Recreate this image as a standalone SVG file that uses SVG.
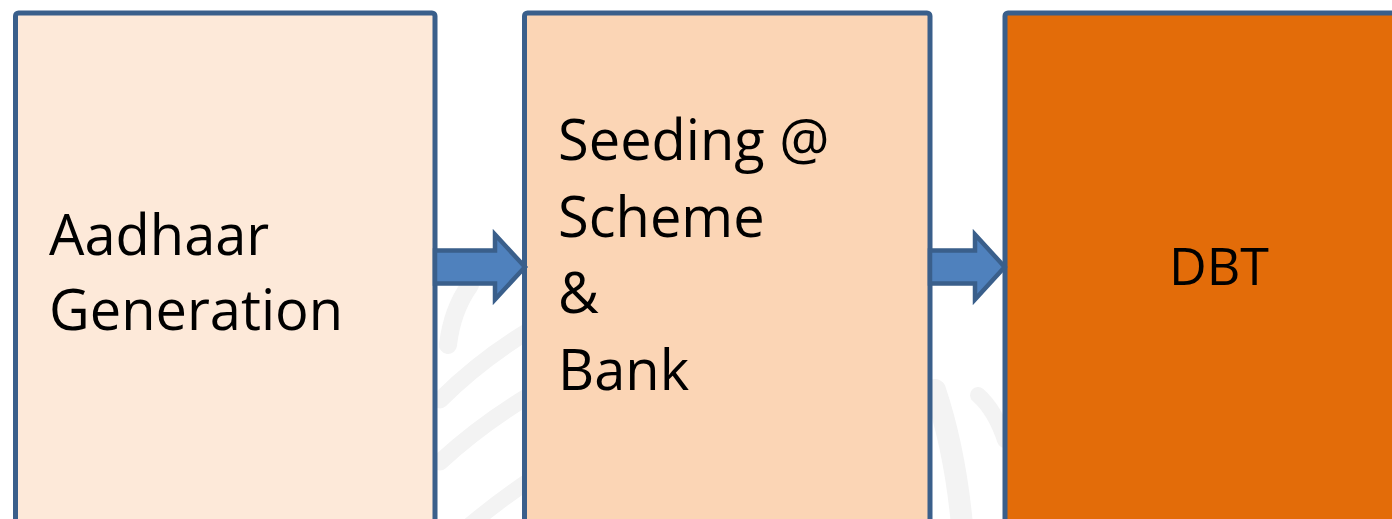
<svg xmlns="http://www.w3.org/2000/svg" width="1392" height="519" viewBox="0 0 1392 519">
<style>
.box{stroke:#3a5f8b;stroke-width:5}
.arrow{fill:#4f81bd;stroke:#3a5f8b;stroke-width:4.5;stroke-linejoin:miter;stroke-miterlimit:10}
.lbl{font-family:"Open Sans","Noto Sans","Liberation Sans",sans-serif;font-size:56px;fill:#000}
.wm{fill:none;stroke:#f3f3f3;stroke-linecap:round}
</style>
<rect width="1392" height="519" fill="#ffffff"/>
<g id="watermark">
<path class="wm" stroke-width="18" d="M448 345 Q452 310 470 285"/>
<path class="wm" stroke-width="17" d="M440 400 Q480 360 530 330"/>
<path class="wm" stroke-width="17" d="M440 462 Q480 425 530 395"/>
<path class="wm" stroke-width="16" d="M470 525 Q500 500 530 480"/>
<path class="wm" stroke-width="22" d="M935 390 Q955 450 962 525"/>
<path class="wm" stroke-width="16" d="M978 395 Q995 410 1005 440"/>
</g>
<g id="node-aadhaar">
<rect class="box" x="15.5" y="13" width="419.5" height="530" rx="3" fill="#fde9d9"/>
<text class="lbl" x="49" y="255">Aadhaar</text>
<text class="lbl" x="49" y="330">Generation</text>
</g>
<g id="node-seeding">
<rect class="box" x="524.5" y="13" width="405.5" height="530" rx="3" fill="#fbd5b5"/>
<text class="lbl" x="558" y="160">Seeding @</text>
<text class="lbl" x="558" y="237">Scheme</text>
<text class="lbl" x="558" y="313">&amp;</text>
<text class="lbl" x="558" y="390">Bank</text>
</g>
<g id="node-dbt">
<rect class="box" x="1005" y="13" width="420" height="530" rx="3" fill="#e36c09"/>
<text class="lbl" x="1219" y="285" text-anchor="middle" style="font-size:52px">DBT</text>
</g>
<g id="connectors">
<path class="arrow" d="M435 250.5 H495 V234.5 L525 267 L495 299.5 V283.5 H435 Z"/>
<path class="arrow" d="M930 250.5 H975 V234.5 L1004.7 267 L975 299.5 V283.5 H930 Z"/>
</g>
</svg>
